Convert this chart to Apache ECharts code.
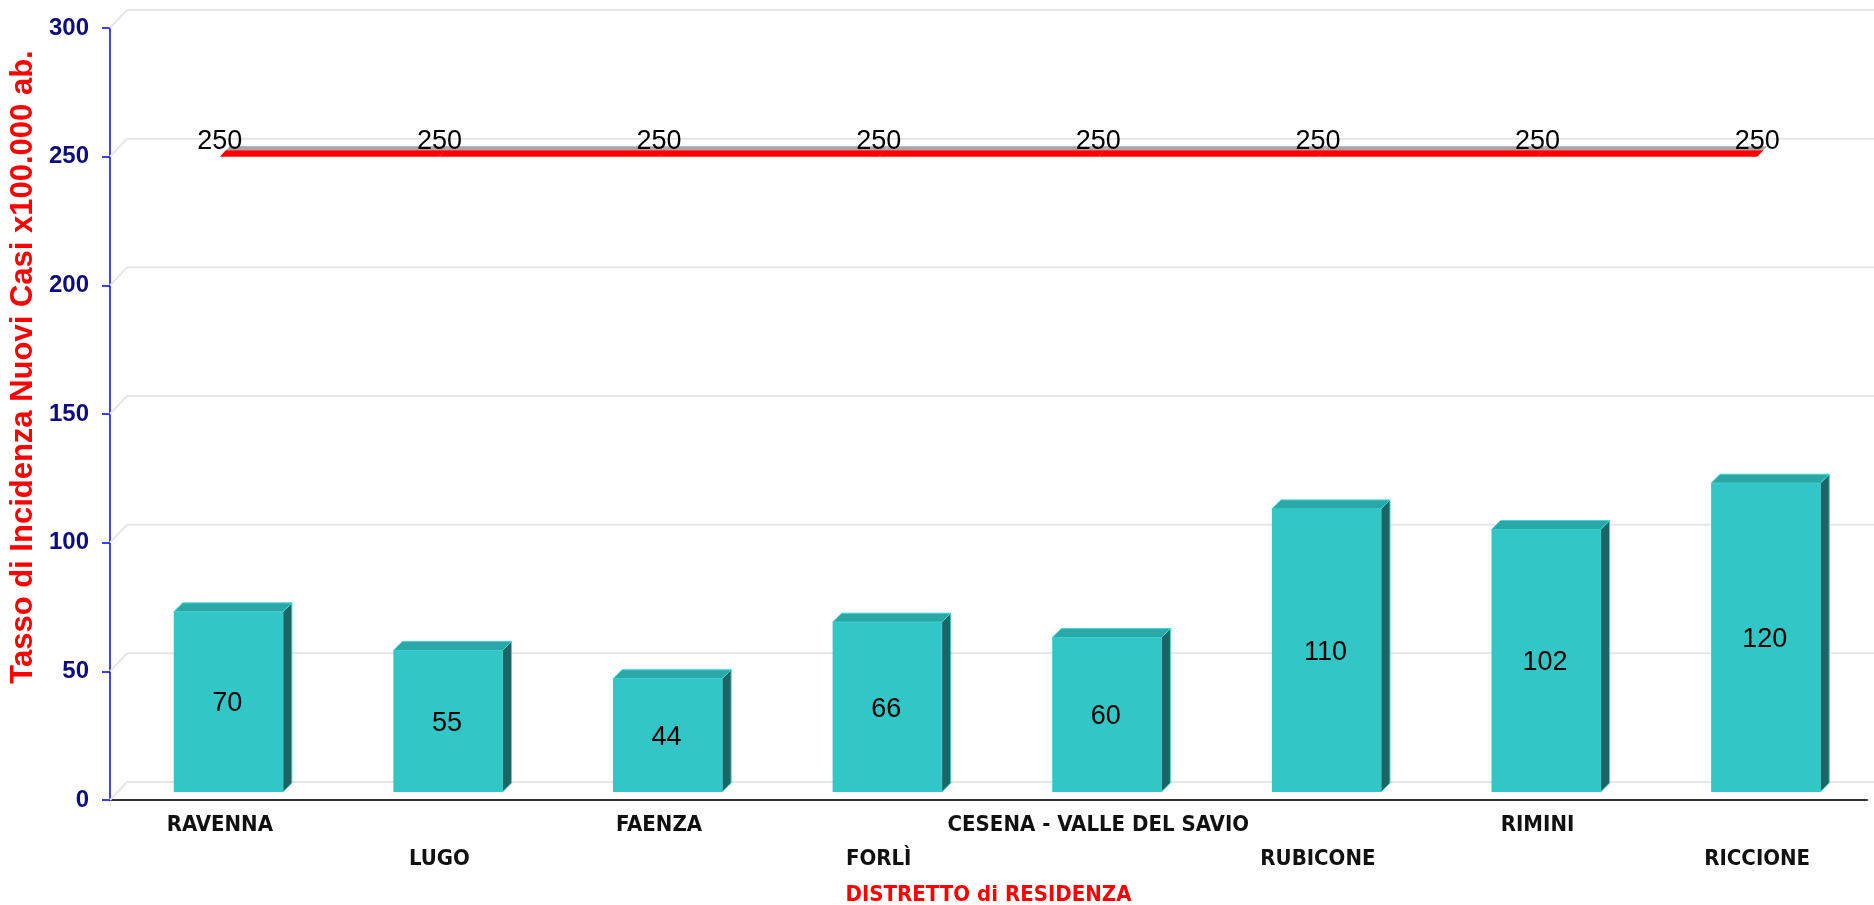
<!DOCTYPE html>
<html>
<head>
<meta charset="utf-8">
<script src="https://cdn.jsdelivr.net/npm/echarts@6/dist/echarts.min.js"></script>
<style>
html,body{margin:0;padding:0;background:#fff;}
#chart{width:1874px;height:905px;}
</style>
</head>
<body>
<div id="chart"></div>
<script>
const categories = ['RAVENNA', 'LUGO', 'FAENZA', 'FORLÌ', 'CESENA - VALLE DEL SAVIO', 'RUBICONE', 'RIMINI', 'RICCIONE'];
const rates = [70, 55, 44, 66, 60, 110, 102, 120];
const target = [250, 250, 250, 250, 250, 250, 250, 250];
const yTicks = [0, 50, 100, 150, 200, 250, 300];
const yTitle = 'Tasso di Incidenza Nuovi Casi x100.000 ab.';
const xTitle = 'DISTRETTO di RESIDENZA';

const FONT = '"Liberation Sans", Arial, sans-serif';
const NARROW = '"Liberation Sans Narrow", "DejaVu Sans Condensed", "Liberation Sans", sans-serif';

const chart = echarts.init(document.getElementById('chart'));

function gridItem(params, api) {
  const cs = params.coordSys;
  const y = api.coord([0, api.value(1)])[1];
  const bx = cs.x + 17, by = y - 18;
  return {
    type: 'group',
    children: [
      { type: 'line', shape: { x1: cs.x, y1: y, x2: bx, y2: by }, style: { stroke: '#e6e6e6', lineWidth: 2 } },
      { type: 'line', shape: { x1: bx, y1: by, x2: cs.x + cs.width + 10, y2: by }, style: { stroke: '#e6e6e6', lineWidth: 2 } }
    ]
  };
}

function barItem(params, api) {
  const i = api.value(0), v = api.value(1);
  const top = api.coord([i, v]);
  const base = api.coord([i, 0]);
  const bw = api.size([1, 0])[0] * 0.497;
  const cx = top[0] + 8.5;
  const l = cx - bw / 2, r = cx + bw / 2;
  const yt = top[1] - 8, yb = base[1] - 8;
  const d = 9;
  return {
    type: 'group',
    children: [
      { type: 'polygon', shape: { points: [[r, yt], [r + d, yt - d], [r + d, yb - d], [r, yb]] },
        style: { fill: '#1d6565', stroke: '#3fd6d6', lineWidth: 1 } },
      { type: 'polygon', shape: { points: [[l, yt], [l + d, yt - d], [r + d, yt - d], [r, yt]] },
        style: { fill: '#2aa8a8', stroke: '#3fd6d6', lineWidth: 1 } },
      { type: 'rect', shape: { x: l, y: yt, width: bw, height: yb - yt },
        style: { fill: '#32c6c6' } },
      { type: 'text', x: cx - 1, y: (yt + yb) / 2 + 2,
        style: { text: String(v), align: 'center', verticalAlign: 'middle', font: '27px ' + FONT, fill: '#000' } }
    ]
  };
}

function lineItem(params, api) {
  const i = api.value(0), v = api.value(1);
  const p = api.coord([i, v]);
  const children = [];
  if (params.dataIndex < target.length - 1) {
    const q = api.coord([i + 1, target[params.dataIndex + 1]]);
    children.push({ type: 'polygon', shape: { points: [[p[0] + 10, p[1] - 10.5], [q[0] + 10, q[1] - 10.5], [q[0] + 6, q[1] - 6.5], [p[0] + 6, p[1] - 6.5]] },
      style: { fill: '#a6a6a6' } });
    children.push({ type: 'polygon', shape: { points: [[p[0] + 6, p[1] - 6.5], [q[0] + 6.5, q[1] - 6.5], [q[0], q[1]], [p[0], p[1]]] },
      style: { fill: '#ff0000' } });
  }
  children.push({ type: 'text', x: p[0], y: p[1] - 15, z2: 10,
    style: { text: String(v), align: 'center', verticalAlign: 'middle', font: '27px ' + FONT, fill: '#000' } });
  return { type: 'group', children };
}

chart.setOption({
  animation: false,
  backgroundColor: '#ffffff',
  grid: { left: 110, right: 7, top: 28, bottom: 105, containLabel: false, outerBoundsMode: 'none' },
  xAxis: {
    type: 'category',
    data: categories,
    boundaryGap: true,
    axisLine: { lineStyle: { color: '#333333', width: 2 } },
    axisTick: { alignWithLabel: true, length: 8, lineStyle: { color: '#333333', width: 2 } },
    axisLabel: {
      interval: 0, margin: 8, lineHeight: 34,
      fontFamily: NARROW, fontWeight: 'bold', fontSize: 22, color: '#111111',
      formatter: (val, idx) => (idx % 2 === 1 ? '\n' + val : val)
    },
    splitLine: { show: false },
    name: xTitle,
    nameLocation: 'middle',
    nameGap: 84,
    nameTextStyle: { fontFamily: NARROW, fontWeight: 'bold', fontSize: 22, color: '#ff0000' }
  },
  yAxis: {
    type: 'value',
    min: 0, max: 300, interval: 50,
    axisLine: { show: true, lineStyle: { color: '#0000ff', width: 1.5 } },
    axisTick: { show: true, length: 8, lineStyle: { color: '#0000ff', width: 1.5 } },
    axisLabel: { margin: 21, fontFamily: FONT, fontWeight: 'bold', fontSize: 24, color: '#0d0d80' },
    splitLine: { show: false }
  },
  graphic: [
    { type: 'text', x: 23, y: 367, rotation: Math.PI / 2,
      style: { text: yTitle, align: 'center', verticalAlign: 'middle', font: 'bold 31px ' + FONT, fill: '#ff0000' } }
  ],
  series: [
    { type: 'custom', name: 'grid', z: 1, silent: true, renderItem: gridItem,
      data: yTicks.map(v => [0, v]) },
    { type: 'custom', name: 'Tasso', z: 3, renderItem: barItem,
      data: rates.map((v, i) => [i, v]) },
    { type: 'custom', name: 'Soglia', z: 4, renderItem: lineItem,
      data: target.map((v, i) => [i, v]) }
  ]
});
</script>
</body>
</html>
